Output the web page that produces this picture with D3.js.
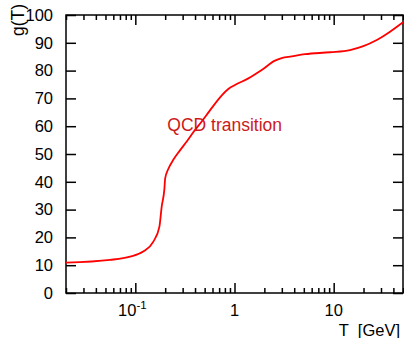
<!DOCTYPE html>
<html>
<head>
<meta charset="utf-8">
<script src="https://cdn.jsdelivr.net/npm/d3@7"></script>
<style>
  body { margin: 0; background: #fff; }
  svg { display: block; }
</style>
</head>
<body>
<svg id="chart" width="404" height="338"></svg>
<script>
// temperature [GeV] and effective degrees of freedom g(T)
let temps = [0.02, 0.0556, 0.0884, 0.12, 0.152, 0.175, 0.1845, 0.196, 0.2, 0.215, 0.2415, 0.282, 0.33, 0.384, 0.467, 0.566, 0.748, 0.866, 1.01, 1.38, 1.88, 2.56, 2.99, 3.77, 5.14, 9.18, 14.6, 19.9, 27.2, 37, 50];
let gvals = [10.9, 11.9, 13.1, 14.9, 18.5, 23.9, 31.1, 37.1, 41.2, 44.6, 47.9, 51.3, 54.5, 57.8, 61.7, 65.7, 71.2, 73.4, 74.8, 77.2, 80.2, 83.6, 84.5, 85.1, 85.9, 86.6, 87.4, 88.8, 91.0, 94.0, 97.4];

let yTicks = [0, 10, 20, 30, 40, 50, 60, 70, 80, 90, 100];
let xMajor = [0.1, 1, 10];
let xLabels = [["10", "-1"], ["1", ""], ["10", ""]];

let width = 404;
let height = 338;
let margin = ({top: 15, right: 1, bottom: 45, left: 66});

let font = "'Liberation Sans', Arial, Helvetica, sans-serif";

const svg = d3.select("#chart")
              .style("font-family", font);

const x = d3.scaleLog()
            .domain([0.02, 50])
            .range([margin.left, width - margin.right]);

const y = d3.scaleLinear()
            .domain([0, 100])
            .range([height - margin.bottom, margin.top]);

// minor ticks: 2..9 x 10^k inside the domain
let xMinor = [];
[0.01, 0.1, 1, 10].forEach(d => {
	for (let k = 2; k <= 9; k++) {
		let v = d * k;
		if (v >= 0.02 && v <= 50) xMinor.push(v);
	}
});

function styleAxis(g) {
	g.select(".domain").remove();
	g.selectAll("line").attr("stroke", "#000").attr("stroke-width", 1.5);
}

// bottom
svg.append("g")
   .attr("transform", `translate(0,${y(0)})`)
   .call(d3.axisBottom(x).tickValues(xMinor).tickSize(-5).tickFormat(""))
   .call(styleAxis);
svg.append("g")
   .attr("transform", `translate(0,${y(0)})`)
   .call(d3.axisBottom(x).tickValues(xMajor).tickSize(-10).tickFormat(""))
   .call(styleAxis);

// top
svg.append("g")
   .attr("transform", `translate(0,${y(100)})`)
   .call(d3.axisTop(x).tickValues(xMinor).tickSize(-5).tickFormat(""))
   .call(styleAxis);
svg.append("g")
   .attr("transform", `translate(0,${y(100)})`)
   .call(d3.axisTop(x).tickValues(xMajor).tickSize(-10).tickFormat(""))
   .call(styleAxis);

// left
const gLeft = svg.append("g")
   .attr("transform", `translate(${x(0.02)},0)`)
   .call(d3.axisLeft(y).tickValues(yTicks).tickSize(-10).tickPadding(13))
   .call(styleAxis);
gLeft.selectAll("text")
     .attr("font-size", 16.5)
     .attr("font-family", font)
     .attr("fill", "#000");

// right
svg.append("g")
   .attr("transform", `translate(${x(50)},0)`)
   .call(d3.axisRight(y).tickValues(yTicks).tickSize(-10).tickFormat(""))
   .call(styleAxis);

// frame
svg.append("rect")
   .attr("x", x(0.02))
   .attr("y", y(100))
   .attr("width", x(50) - x(0.02))
   .attr("height", y(0) - y(100))
   .attr("fill", "none")
   .attr("stroke", "#000")
   .attr("stroke-width", 1.5);

// x tick labels with exponent
const xl = svg.append("g")
   .attr("font-size", 16.5)
   .attr("fill", "#000");
xMajor.forEach((v, i) => {
	const t = xl.append("text")
	  .attr("x", x(v) + (xLabels[i][1] ? -3 : 0))
	  .attr("y", 316)
	  .attr("text-anchor", "middle");
	t.append("tspan").text(xLabels[i][0]);
	if (xLabels[i][1]) {
		t.append("tspan")
		 .attr("dy", -7)
		 .attr("font-size", 11.5)
		 .text(xLabels[i][1]);
	}
});

// axis titles
svg.append("text")
   .attr("x", width - 4)
   .attr("y", 336)
   .attr("text-anchor", "end")
   .attr("font-size", 16.5)
   .attr("xml:space", "preserve")
   .text("T  [GeV]");

svg.append("text")
   .attr("transform", "translate(24,4) rotate(-90)")
   .attr("text-anchor", "end")
   .attr("font-size", 17.5)
   .text("g(T)");

// curve
const line = d3.line()
   .x((d, i) => x(temps[i]))
   .y(d => y(d))
   .curve(d3.curveMonotoneX);

svg.append("path")
   .datum(gvals)
   .attr("fill", "none")
   .attr("stroke", "#ff0000")
   .attr("stroke-width", 1.8)
   .attr("d", line);

// annotation
svg.append("text")
   .attr("x", x(0.21))
   .attr("y", y(58.3))
   .attr("font-size", 17.5)
   .attr("fill", "#cc1a1a")
   .text("QCD transition");
</script>
</body>
</html>
